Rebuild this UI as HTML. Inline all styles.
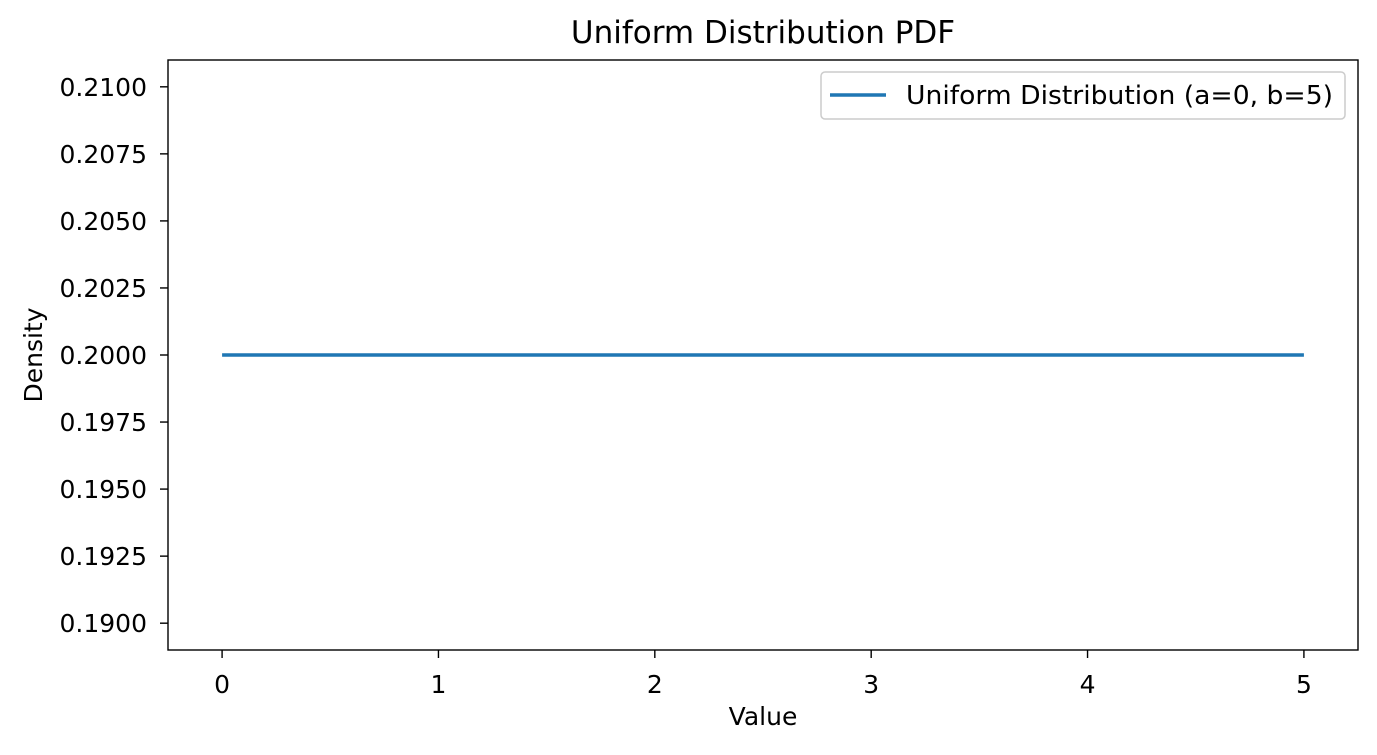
<!DOCTYPE html>
<html><head><meta charset="utf-8"><style>
body{margin:0;background:#fff;font-family:"DejaVu Sans","Liberation Sans",sans-serif}
svg text{font-family:"DejaVu Sans","Liberation Sans",sans-serif;fill:#000}
</style></head><body>
<svg id="chart" width="1377" height="751" xmlns="http://www.w3.org/2000/svg">
<rect width="1377" height="751" fill="#fff"/>
<g id="plot"></g>
</svg>
<script>
const xTicks=[0,1,2,3,4,5];
const yTicks=[0.1900,0.1925,0.1950,0.1975,0.2000,0.2025,0.2050,0.2075,0.2100];
const yTickLabels=["0.1900","0.1925","0.1950","0.1975","0.2000","0.2025","0.2050","0.2075","0.2100"];
const seriesX=[0,5];
const seriesY=[0.2,0.2];
const L=168,R=1358,T=60,B=650;
const x0=-0.25,x1=5.25,y0=0.189,y1=0.211;
const sx=v=>L+(v-x0)/(x1-x0)*(R-L);
const sy=v=>B-(v-y0)/(y1-y0)*(B-T);
const NS="http://www.w3.org/2000/svg";
const g=document.getElementById('plot');
function mk(t,a){const e=document.createElementNS(NS,t);for(const k in a)e.setAttribute(k,a[k]);g.appendChild(e);return e;}
xTicks.forEach(v=>{
 const l=mk('line',{x1:sx(v),x2:sx(v),y1:B,y2:B+8,stroke:'#000','stroke-width':1.4});
 
 
 const t=mk('text',{x:sx(v),y:B+43,'text-anchor':'middle','font-size':25});
 t.textContent=v;
 
 
});
yTicks.forEach((v,i)=>{
 const l=mk('line',{x1:L-8,x2:L,y1:sy(v),y2:sy(v),stroke:'#000','stroke-width':1.4});
 
 
 const t=mk('text',{x:L-21,y:sy(v)+9,'text-anchor':'end','font-size':25});
 t.textContent=yTickLabels[i];
 
 
});
const line=mk('polyline',{points:seriesX.map((x,i)=>sx(x)+','+sy(seriesY[i])).join(' '),fill:'none',stroke:'#1f77b4','stroke-width':3.5});


const frame=mk('rect',{x:L,y:T,width:R-L,height:B-T,fill:'none',stroke:'#000','stroke-width':1.4});


const title=mk('text',{x:(L+R)/2,y:43,'text-anchor':'middle','font-size':31});
title.textContent='Uniform Distribution PDF';


const xl=mk('text',{x:(L+R)/2,y:725,'text-anchor':'middle','font-size':25});
xl.textContent='Value';


const yl=mk('text',{x:0,y:0,'text-anchor':'middle','font-size':25,transform:'translate(42,'+((T+B)/2)+') rotate(-90)'});
yl.textContent='Density';


const lg=mk('rect',{x:821,y:72,width:524,height:47,rx:4,fill:'#fff',stroke:'#ccc','stroke-width':1.5});


const ll=mk('line',{x1:830,x2:886,y1:95,y2:95,stroke:'#1f77b4','stroke-width':3.5});


const lt=mk('text',{x:906,y:104,'font-size':26,textLength:427,lengthAdjust:'spacingAndGlyphs'});
lt.textContent='Uniform Distribution (a=0, b=5)';


</script>
</body></html>
